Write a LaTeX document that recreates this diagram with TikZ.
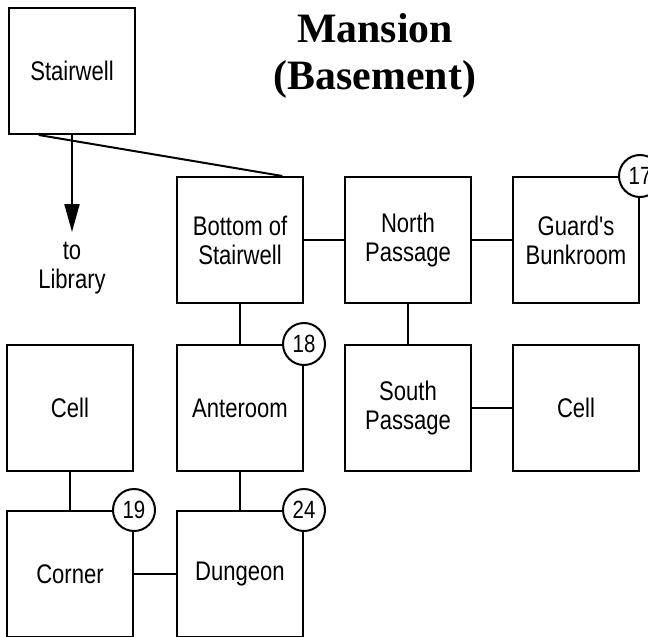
\documentclass[tikz,border=0pt]{standalone}
\usepackage{fontspec}
\setmainfont{Liberation Serif}
\newfontfamily\roomfont[FakeStretch=0.82]{Liberation Sans}
\usepackage{tikz}
\usetikzlibrary{arrows.meta, positioning, calc}

\begin{document}
\begin{tikzpicture}[
    x=1bp, y=1bp,
    >={Triangle[length=28bp, width=15bp]},
    room/.style={
        rectangle, draw=black, line width=2bp, fill=white,
        minimum width=126bp, minimum height=126bp,
        align=center, inner sep=2pt,
        font=\roomfont\fontsize{27}{29}\selectfont
    },
    badge/.style={
        circle, draw=black, line width=2bp, fill=white,
        minimum size=42bp, inner sep=0pt,
        font=\roomfont\fontsize{25}{25}\selectfont
    },
    caption/.style={align=center, font=\roomfont\fontsize{27}{29}\selectfont},
    maptitle/.style={align=center, font=\bfseries\fontsize{42}{48}\selectfont},
    link/.style={line width=2bp},
]
\useasboundingbox (0,0) rectangle (648,-637);

% ── Title ──
\node[maptitle] (title) at (375,-56) {Mansion\\(Basement)};

% ── Rooms ──
\node[room] (stair) at (72,-71) {Stairwell};
\node[room] (bottom) at (240,-240) {Bottom of\\Stairwell};
\node[room, right=40bp of bottom] (north) {North\\Passage};
\node[room, right=40bp of north] (guard) {Guard's\\Bunkroom};

\node[room, below=40bp of bottom] (ante) {Anteroom};
\node[room, below=40bp of north] (south) {South\\Passage};
\node[room, below=40bp of guard] (cellr) {Cell};
\node[room, left=42bp of ante] (celll) {Cell};

\node[room, below=38bp of celll] (corner) {Corner};
\node[room, below=38bp of ante] (dungeon) {Dungeon};

% ── Way up ──
\node[caption, below=104bp of stair.south] (library) {to\\Library};
\coordinate (libtip) at ($(stair.south)+(0,-97)$);

% ── Connectors ──
\draw[link] ($(stair.south west)!0.24!(stair.south east)$)
    -- ($(bottom.north west)!0.83!(bottom.north east)$);
\draw[link, ->] (stair.south) -- (libtip);
\draw[link] (bottom) -- (north);
\draw[link] (north) -- (guard);
\draw[link] (north) -- (south);
\draw[link] (south) -- (cellr);
\draw[link] (bottom) -- (ante);
\draw[link] (ante) -- (dungeon);
\draw[link] (celll) -- (corner);
\draw[link] (corner) -- (dungeon);

% ── Room numbers ──
\node[badge] (n17) at (guard.north east) {17};
\node[badge] (n18) at (ante.north east) {18};
\node[badge] (n19) at (corner.north east) {19};
\node[badge] (n24) at (dungeon.north east) {24};

\end{tikzpicture}
\end{document}
